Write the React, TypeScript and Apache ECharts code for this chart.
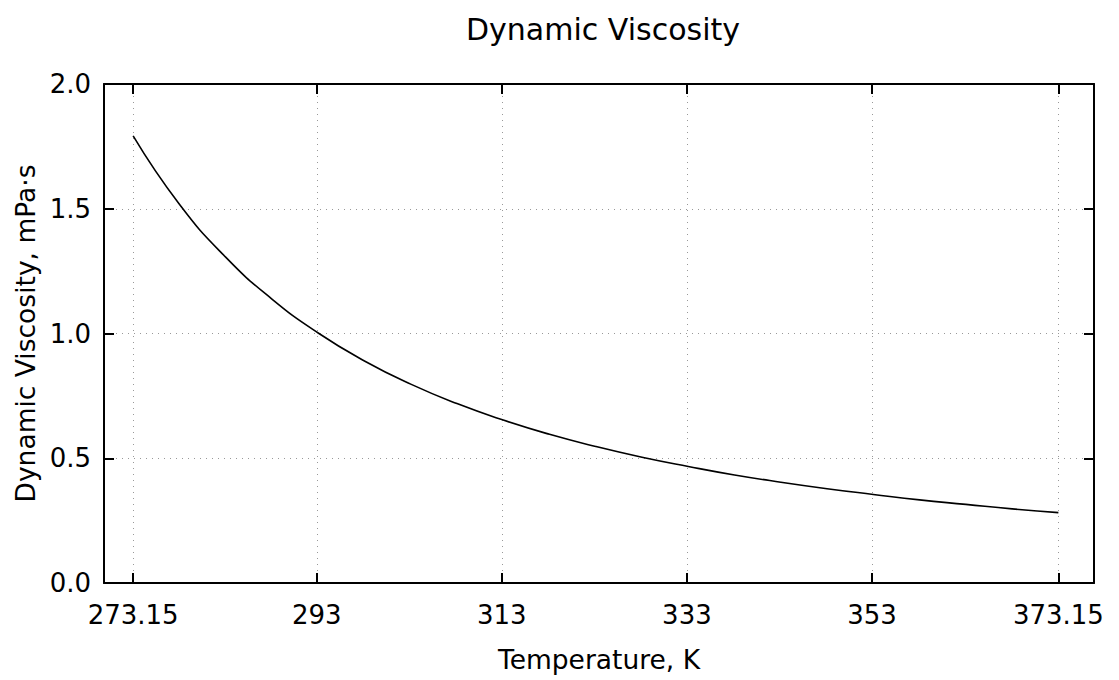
import React, { useEffect, useRef } from "react";
import * as echarts from "echarts";

const temperatures = [273.15, 278.15, 283.15, 288.15, 293.15, 298.15, 303.15, 308.15, 313.15, 318.15, 323.15, 328.15, 333.15, 338.15, 343.15, 348.15, 353.15, 358.15, 363.15, 368.15, 373.15];
const viscosity = [1.792, 1.518, 1.306, 1.138, 1.002, 0.890, 0.797, 0.719, 0.653, 0.596, 0.547, 0.504, 0.467, 0.433, 0.404, 0.378, 0.355, 0.333, 0.315, 0.297, 0.282];
const xTicks = [273.15, 293, 313, 333, 353, 373.15];

const FONT = "DejaVu Sans";

export default function App() {
  const ref = useRef<HTMLDivElement>(null);
  useEffect(() => {
    const chart = echarts.init(ref.current!, null, { renderer: "svg" });
    const axisLine = { show: true, onZero: false, lineStyle: { color: "#000", width: 2 } };
    const tick = { inside: true, length: 10, lineStyle: { color: "#000", width: 2 } };
    const split = { show: true, lineStyle: { color: "#999", type: [1, 5] as any, width: 1 } };
    chart.setOption({
      animation: false,
      backgroundColor: "#fff",
      title: {
        text: "Dynamic Viscosity",
        left: 598,
        top: 9,
        textAlign: "center",
        textStyle: { fontFamily: FONT, fontSize: 30, fontWeight: "normal", color: "#000" },
      },
      grid: { left: 104, right: 25, top: 84, bottom: 97, containLabel: false },
      xAxis: [
        {
          type: "value",
          min: 270,
          max: 377,
          position: "bottom",
          axisLine,
          axisTick: { ...tick, customValues: xTicks },
          axisLabel: {
            customValues: xTicks,
            margin: 19,
            fontFamily: FONT,
            fontSize: 26,
            color: "#000",
            formatter: (v: number) => String(v),
          },
          splitLine: split,
          name: "Temperature, K",
          nameLocation: "middle",
          nameGap: 63,
          nameTextStyle: { fontFamily: FONT, fontSize: 26.5, color: "#000" },
        },
        {
          type: "value",
          min: 270,
          max: 377,
          position: "top",
          axisLine,
          axisTick: { ...tick, customValues: xTicks },
          axisLabel: { show: false, customValues: xTicks },
          splitLine: { show: false },
        },
      ],
      yAxis: [
        {
          type: "value",
          min: 0,
          max: 2,
          interval: 0.5,
          position: "left",
          axisLine,
          axisTick: tick,
          axisLabel: {
            margin: 13,
            fontFamily: FONT,
            fontSize: 26,
            color: "#000",
            formatter: (v: number) => v.toFixed(1),
          },
          splitLine: split,
          name: "Dynamic Viscosity, mPa·s",
          nameLocation: "middle",
          nameGap: 65,
          nameTextStyle: { fontFamily: FONT, fontSize: 26.5, color: "#000" },
        },
        {
          type: "value",
          min: 0,
          max: 2,
          interval: 0.5,
          position: "right",
          axisLine,
          axisTick: tick,
          axisLabel: { show: false },
          splitLine: { show: false },
        },
      ],
      series: [
        {
          type: "line",
          data: temperatures.map((t, i) => [t, viscosity[i]]),
          smooth: true,
          showSymbol: false,
          lineStyle: { color: "#000", width: 1.6 },
          xAxisIndex: 0,
          yAxisIndex: 0,
        },
      ],
    });
    return () => chart.dispose();
  }, []);
  return <div ref={ref} style={{ width: 1119, height: 680, position: "absolute", left: 0, top: 0 }} />;
}
